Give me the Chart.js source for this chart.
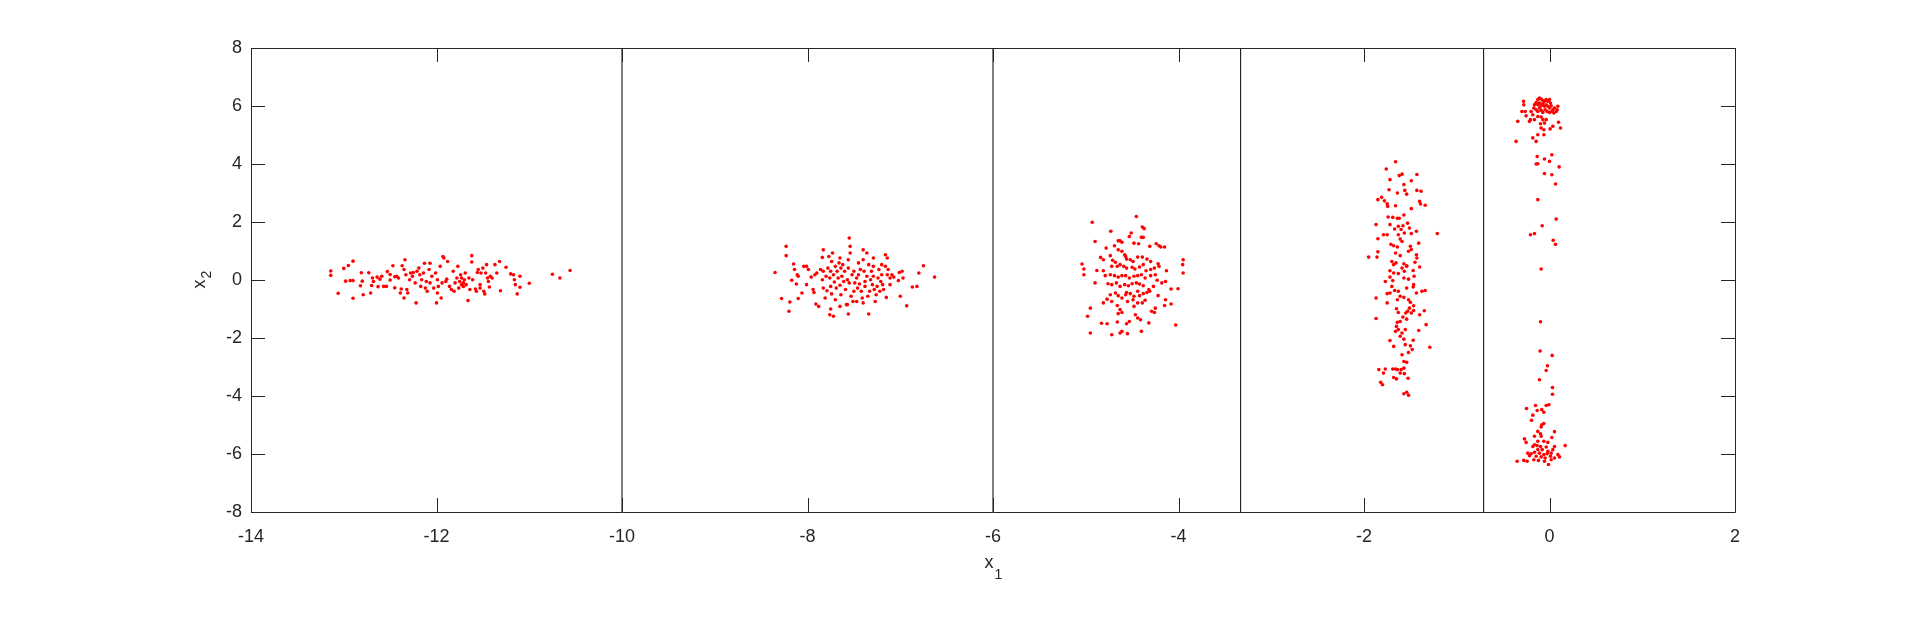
<!DOCTYPE html>
<html>
<head>
<meta charset="utf-8">
<script src="https://cdn.jsdelivr.net/npm/chart.js@4.4.0/dist/chart.umd.min.js"></script>
<style>
  html, body { margin: 0; padding: 0; background: #fff; }
  #wrap { width: 1920px; height: 635px; }
</style>
</head>
<body>
<div id="wrap"><canvas id="chart" width="1920" height="635"></canvas></div>
<script>
// axis ranges / ticks
const xTicks = [-14, -12, -10, -8, -6, -4, -2, 0, 2];
const yTicks = [-8, -6, -4, -2, 0, 2, 4, 6, 8];
// vertical separator lines
const boundaries = [-10, -6, -3.33, -0.71];

// clusters, [x1, x2] pairs
const cluster1 = [
  [-13.14,0.31],[-13.14,0.16],[-13.00,0.40],[-12.95,0.50],[-12.90,0.65],[-13.06,-0.46],[-12.98,-0.04],
  [-12.93,-0.02],[-12.90,-0.02],[-12.90,-0.63],[-12.81,0.25],[-12.80,-0.04],[-12.82,-0.20],[-12.79,-0.51],
  [-12.73,0.25],[-12.71,-0.45],[-12.70,-0.19],[-12.69,0.07],[-12.68,-0.05],[-12.64,0.10],[-12.63,-0.23],
  [-12.61,0.03],[-12.59,0.13],[-12.57,-0.22],[-12.54,-0.22],[-12.53,0.29],[-12.50,0.00],[-12.50,0.19],
  [-12.47,0.49],[-12.45,0.11],[-12.45,-0.27],[-12.43,0.13],[-12.41,0.07],[-12.39,-0.45],[-12.38,-0.31],
  [-12.37,0.49],[-12.35,-0.62],[-12.35,0.36],[-12.34,0.70],[-12.33,0.18],[-12.32,-0.33],[-12.31,-0.45],
  [-12.29,0.01],[-12.28,0.24],[-12.26,0.13],[-12.25,0.26],[-12.23,-0.10],[-12.22,-0.79],[-12.21,0.30],
  [-12.19,0.41],[-12.18,0.18],[-12.17,-0.22],[-12.16,0.01],[-12.14,0.24],[-12.13,0.58],[-12.12,-0.28],
  [-12.11,-0.05],[-12.10,-0.39],[-12.08,0.36],[-12.07,0.58],[-12.07,-0.10],[-12.05,0.13],[-12.03,-0.28],
  [-12.01,0.24],[-12.00,-0.79],[-11.99,0.01],[-11.99,-0.45],[-11.98,-0.22],[-11.96,0.47],[-11.95,-0.62],
  [-11.94,-0.10],[-11.93,0.81],[-11.92,0.76],[-11.90,-0.05],[-11.89,0.03],[-11.88,0.64],[-11.86,-0.22],
  [-11.84,-0.33],[-11.82,0.30],[-11.81,-0.39],[-11.80,-0.10],[-11.78,0.07],[-11.77,0.47],[-11.76,-0.28],
  [-11.75,-0.05],[-11.74,0.18],[-11.73,-0.16],[-11.73,0.07],[-11.71,-0.10],[-11.71,-0.22],[-11.70,0.01],
  [-11.69,0.24],[-11.68,-0.16],[-11.66,-0.71],[-11.65,0.07],[-11.64,-0.33],[-11.62,0.84],[-11.62,0.62],
  [-11.61,0.01],[-11.58,-0.31],[-11.57,-0.39],[-11.56,0.26],[-11.55,0.36],[-11.53,-0.28],[-11.53,-0.16],
  [-11.52,0.24],[-11.50,0.41],[-11.49,-0.39],[-11.48,-0.48],[-11.47,0.24],[-11.46,0.53],[-11.45,0.07],
  [-11.44,-0.05],[-11.43,-0.24],[-11.42,0.13],[-11.40,0.07],[-11.37,0.53],[-11.35,0.24],[-11.32,0.64],
  [-11.31,-0.37],[-11.25,0.44],[-11.20,0.21],[-11.17,0.18],[-11.16,0.01],[-11.15,-0.16],[-11.13,-0.48],
  [-11.10,0.13],[-11.10,-0.25],[-11.00,-0.11],[-10.75,0.20],[-10.67,0.07],[-10.56,0.33]
];
const cluster2 = [
  [-8.35,0.26],[-8.28,-0.64],[-8.23,1.16],[-8.23,0.84],[-8.20,-1.08],[-8.19,-0.76],[-8.17,-0.01],
  [-8.15,0.55],[-8.14,0.36],[-8.12,-0.14],[-8.11,0.18],[-8.10,0.13],[-8.10,-0.64],[-8.06,-0.45],
  [-8.04,0.47],[-8.01,0.47],[-8.01,-0.16],[-7.99,0.36],[-7.96,0.10],[-7.94,-0.33],[-7.93,-0.43],
  [-7.92,0.18],[-7.91,-0.83],[-7.90,0.24],[-7.88,-0.91],[-7.86,0.36],[-7.84,0.78],[-7.84,0.01],
  [-7.83,-0.28],[-7.83,1.04],[-7.83,0.30],[-7.81,-0.62],[-7.80,0.13],[-7.79,-0.37],[-7.78,0.41],
  [-7.77,0.81],[-7.76,0.07],[-7.76,-1.20],[-7.75,-0.22],[-7.75,-1.00],[-7.75,0.30],[-7.74,0.64],
  [-7.74,-0.48],[-7.73,0.93],[-7.72,0.18],[-7.72,-1.25],[-7.71,-0.07],[-7.70,0.47],[-7.70,-0.68],
  [-7.69,-0.28],[-7.68,0.30],[-7.67,0.07],[-7.66,0.59],[-7.65,0.76],[-7.65,-0.18],[-7.65,-0.91],
  [-7.64,0.41],[-7.64,-0.51],[-7.63,0.13],[-7.62,0.53],[-7.61,-0.05],[-7.60,0.30],[-7.59,-0.33],
  [-7.58,-0.85],[-7.57,0.01],[-7.57,-0.85],[-7.56,-1.17],[-7.56,0.70],[-7.56,0.41],[-7.55,1.45],
  [-7.55,-0.10],[-7.54,1.16],[-7.54,0.93],[-7.53,-0.56],[-7.52,0.18],[-7.51,-0.74],[-7.50,-0.39],
  [-7.50,0.30],[-7.49,-0.10],[-7.47,-0.74],[-7.47,0.07],[-7.46,-0.28],[-7.45,0.59],[-7.45,0.18],
  [-7.44,-0.14],[-7.43,0.36],[-7.42,-0.39],[-7.41,-0.62],[-7.40,0.70],[-7.40,-0.79],[-7.40,1.04],
  [-7.39,0.30],[-7.38,-0.05],[-7.38,-0.22],[-7.36,0.93],[-7.36,0.13],[-7.35,-0.56],[-7.34,-1.17],
  [-7.34,0.53],[-7.33,-0.39],[-7.32,0.01],[-7.31,0.30],[-7.30,-0.16],[-7.29,0.13],[-7.29,0.76],
  [-7.29,0.47],[-7.28,-0.33],[-7.27,-0.74],[-7.26,-0.51],[-7.25,-0.22],[-7.24,0.07],[-7.23,0.36],
  [-7.22,-0.39],[-7.21,-0.05],[-7.20,0.18],[-7.20,0.53],[-7.19,-0.16],[-7.18,-0.33],[-7.16,0.87],
  [-7.16,0.47],[-7.15,-0.60],[-7.14,0.76],[-7.14,0.18],[-7.13,0.36],[-7.11,-0.16],[-7.11,0.07],
  [-7.09,0.18],[-7.07,0.10],[-7.02,-0.02],[-7.01,0.26],[-7.00,-0.56],[-6.98,0.30],[-6.97,0.07],
  [-6.93,-0.89],[-6.87,-0.24],[-6.82,-0.22],[-6.80,0.24],[-6.75,0.49],[-6.63,0.10]
];
const cluster3 = [
  [-4.455,2.19],[-4.93,1.99],[-4.73,1.68],[-4.51,1.62],[-4.53,1.50],[-4.39,1.83],[-4.37,1.77],
  [-4.90,1.33],[-4.65,1.35],[-4.63,1.35],[-4.61,1.30],[-4.48,1.27],[-4.43,1.25],[-4.40,1.47],
  [-4.38,1.47],[-4.31,1.16],[-4.24,1.25],[-4.21,1.18],[-4.19,1.14],[-4.15,1.14],[-4.78,1.10],
  [-4.69,1.18],[-4.65,1.04],[-4.61,0.99],[-4.58,0.87],[-4.57,0.81],[-4.735,0.84],[-4.84,0.78],
  [-4.81,0.70],[-4.71,0.68],[-4.68,0.61],[-4.56,0.72],[-4.52,0.70],[-4.49,0.64],[-4.44,0.79],
  [-4.39,0.79],[-4.34,0.72],[-4.30,0.64],[-4.22,0.56],[-4.21,0.47],[-3.95,0.70],[-3.955,0.53],
  [-5.04,0.55],[-5.02,0.38],[-5.02,0.18],[-4.88,0.33],[-4.81,0.32],[-4.72,0.47],[-4.66,0.47],
  [-4.63,0.53],[-4.59,0.47],[-4.56,0.41],[-4.50,0.44],[-4.47,0.38],[-4.42,0.45],[-4.38,0.53],
  [-4.35,0.32],[-4.30,0.36],[-4.26,0.41],[-4.25,0.18],[-4.13,0.32],[-3.95,0.24],[-4.79,0.15],
  [-4.735,0.18],[-4.69,0.15],[-4.65,0.10],[-4.61,0.15],[-4.57,0.15],[-4.53,0.07],[-4.48,0.13],
  [-4.44,0.15],[-4.40,0.18],[-4.36,0.07],[-4.30,0.15],[-4.23,-0.01],[-4.90,-0.10],[-4.76,-0.13],
  [-4.72,-0.16],[-4.67,-0.10],[-4.63,-0.22],[-4.58,-0.16],[-4.54,-0.20],[-4.50,-0.13],[-4.455,-0.10],
  [-4.42,-0.14],[-4.38,-0.20],[-4.32,-0.33],[-4.27,-0.22],[-4.18,-0.10],[-4.14,-0.05],[-4.08,-0.31],
  [-4.005,-0.30],[-4.735,-0.51],[-4.68,-0.45],[-4.65,-0.54],[-4.61,-0.62],[-4.57,-0.51],[-4.56,-0.43],
  [-4.52,-0.47],[-4.48,-0.56],[-4.44,-0.39],[-4.42,-0.54],[-4.38,-0.47],[-4.34,-0.43],[-4.31,-0.39],
  [-4.22,-0.54],[-4.81,-0.79],[-4.77,-0.66],[-4.72,-0.74],[-4.66,-0.88],[-4.63,-1.02],[-4.61,-1.12],
  [-4.55,-0.74],[-4.49,-0.68],[-4.48,-0.91],[-4.44,-0.79],[-4.39,-0.79],[-4.36,-0.70],[-4.29,-1.08],
  [-4.25,-0.97],[-4.14,-0.68],[-4.15,-0.88],[-4.08,-0.83],[-4.95,-0.97],[-4.98,-1.25],[-4.65,-1.16],
  [-4.465,-1.20],[-4.44,-1.31],[-4.41,-1.37],[-4.26,-1.12],[-4.83,-1.49],[-4.77,-1.51],[-4.66,-1.45],
  [-4.56,-1.51],[-4.53,-1.43],[-4.32,-1.48],[-4.03,-1.55],[-4.95,-1.83],[-4.72,-1.89],[-4.63,-1.83],
  [-4.61,-1.77],[-4.55,-1.85],[-4.40,-1.77]
];
const cluster4 = [
  [-1.66,4.08],[-1.76,3.83],[-1.72,3.46],[-1.62,3.60],[-1.59,3.65],[-1.43,3.64],[-1.49,3.42],
  [-1.57,3.29],[-1.73,3.11],[-1.64,3.00],[-1.56,3.09],[-1.54,2.96],[-1.43,3.09],[-1.385,3.06],
  [-1.85,2.77],[-1.81,2.85],[-1.78,2.73],[-1.75,2.63],[-1.745,2.54],[-1.66,2.56],[-1.49,2.46],
  [-1.40,2.71],[-1.39,2.62],[-1.34,2.58],[-1.74,2.17],[-1.69,2.16],[-1.64,2.13],[-1.62,2.13],
  [-1.57,2.24],[-1.87,1.91],[-1.72,1.91],[-1.67,1.76],[-1.63,1.85],[-1.60,1.74],[-1.58,1.87],
  [-1.53,1.96],[-1.51,1.79],[-1.435,1.68],[-1.21,1.60],[-1.79,1.56],[-1.75,1.56],[-1.63,1.56],
  [-1.61,1.41],[-1.565,1.62],[-1.49,1.60],[-1.85,1.42],[-1.71,1.23],[-1.68,1.18],[-1.64,1.14],
  [-1.59,1.33],[-1.50,1.16],[-1.49,1.05],[-1.41,1.27],[-1.95,0.79],[-1.86,0.79],[-1.85,0.97],
  [-1.66,0.93],[-1.61,0.84],[-1.52,0.99],[-1.435,0.87],[-1.43,0.76],[-1.70,0.64],[-1.68,0.53],
  [-1.655,0.59],[-1.57,0.56],[-1.54,0.49],[-1.45,0.61],[-1.40,0.45],[-1.72,0.32],[-1.68,0.24],
  [-1.63,0.22],[-1.59,0.41],[-1.565,0.30],[-1.54,0.47],[-1.47,0.33],[-1.46,0.13],[-1.72,0.10],
  [-1.69,-0.02],[-1.77,-0.05],[-1.57,0.07],[-1.52,0.03],[-1.465,-0.16],[-1.47,-0.24],[-1.70,-0.22],
  [-1.67,-0.36],[-1.63,-0.39],[-1.54,-0.28],[-1.435,-0.45],[-1.375,-0.39],[-1.34,-0.36],[-1.87,-0.62],
  [-1.75,-0.47],[-1.72,-0.45],[-1.64,-0.68],[-1.61,-0.56],[-1.57,-0.60],[-1.52,-0.68],[-1.75,-0.79],
  [-1.50,-0.77],[-1.465,-0.89],[-1.51,-0.97],[-1.65,-0.99],[-1.63,-1.12],[-1.55,-1.14],[-1.53,-1.08],
  [-1.49,-1.14],[-1.465,-1.05],[-1.40,-1.20],[-1.35,-1.06],[-1.87,-1.33],[-1.64,-1.46],[-1.61,-1.43],
  [-1.58,-1.28],[-1.54,-1.35],[-1.33,-1.54],[-1.65,-1.60],[-1.63,-1.71],[-1.66,-1.77],[-1.59,-1.83],
  [-1.61,-1.94],[-1.555,-1.71],[-1.41,-1.74],[-1.72,-2.09],[-1.68,-2.29],[-1.57,-2.04],[-1.555,-2.23],
  [-1.50,-2.27],[-1.47,-2.08],[-1.48,-2.40],[-1.52,-2.50],[-1.29,-2.32],[-1.59,-2.58],[-1.57,-2.81],
  [-1.54,-2.84],[-1.57,-3.04],[-1.60,-3.09],[-1.69,-3.07],[-1.66,-3.07],[-1.64,-3.09],[-1.77,-3.07],
  [-1.84,-3.09],[-1.79,-3.21],[-1.565,-3.23],[-1.61,-3.21],[-1.68,-3.36],[-1.65,-3.41],[-1.525,-3.39],
  [-1.82,-3.53],[-1.80,-3.61],[-1.57,-3.92],[-1.54,-3.87],[-1.52,-3.97]
];
const cluster5 = [
  [-0.108,6.27],[-0.126,6.22],[-0.09,6.24],[-0.072,6.19],[-0.054,6.16],[-0.036,6.22],[-0.018,6.16],
  [0.0,6.22],[0.011,6.10],[-0.144,6.12],[-0.162,6.04],[-0.126,6.04],[-0.108,6.10],[-0.09,6.01],
  [-0.072,6.08],[-0.054,5.99],[-0.036,6.04],[-0.018,5.99],[0.0,5.93],[0.018,6.01],[0.036,5.87],
  [0.054,5.93],[0.072,5.81],[0.09,5.99],[0.083,5.87],[-0.169,5.93],[-0.144,5.87],[-0.126,5.81],
  [-0.108,5.93],[-0.09,5.85],[-0.072,5.78],[-0.047,5.87],[-0.025,5.81],[0.0,5.78],[0.025,5.81],
  [0.047,5.76],[-0.28,6.16],[-0.277,6.04],[-0.298,5.81],[-0.262,5.81],[-0.252,5.66],[-0.198,5.81],
  [-0.18,5.70],[-0.205,5.53],[-0.216,5.47],[-0.162,5.53],[-0.126,5.64],[-0.09,5.62],[-0.072,5.53],
  [-0.036,5.53],[-0.342,5.47],[-0.097,5.39],[-0.054,5.41],[0.097,5.44],[0.036,5.30],[0.119,5.24],
  [-0.09,5.24],[-0.061,5.18],[0.007,5.21],[-0.126,5.01],[-0.061,5.01],[-0.18,4.90],[-0.144,4.78],
  [-0.36,4.78],[-0.133,4.26],[-0.054,4.17],[0.0,4.09],[0.025,4.32],[-0.144,4.00],[-0.126,4.01],
  [0.104,3.90],[-0.054,3.67],[0.025,3.63],[0.065,3.31],[-0.126,2.77],[0.072,2.10],[-0.079,1.87],
  [-0.205,1.56],[-0.162,1.60],[0.04,1.37],[0.065,1.23],[-0.09,0.38],
  [-0.097,-1.44],[-0.101,-2.45],[0.029,-2.60],[-0.022,-2.96],[-0.036,-3.12],[-0.108,-3.44],
  [0.032,-3.71],[0.032,-3.94],[-0.248,-4.43],[-0.151,-4.33],[-0.133,-4.50],[-0.083,-4.47],
  [-0.061,-4.56],[-0.036,-4.33],[-0.007,-4.30],[-0.18,-4.66],[-0.194,-4.84],[-0.083,-4.99],
  [-0.061,-4.95],[-0.09,-5.07],[0.054,-5.23],[-0.126,-5.22],[-0.097,-5.30],[-0.162,-5.39],
  [-0.09,-5.39],[0.025,-5.43],[-0.27,-5.48],[-0.252,-5.60],[-0.126,-5.56],[-0.061,-5.56],
  [-0.018,-5.60],[-0.162,-5.68],[-0.133,-5.71],[-0.18,-5.74],[-0.097,-5.74],[-0.036,-5.76],
  [0.054,-5.74],[0.169,-5.71],[-0.126,-5.85],[-0.079,-5.85],[-0.018,-5.91],[0.036,-5.85],
  [-0.234,-5.97],[-0.198,-5.99],[-0.162,-5.94],[-0.108,-5.97],[-0.061,-6.02],[-0.025,-5.99],
  [0.018,-5.97],[0.09,-6.02],[0.108,-6.10],[-0.216,-6.06],[-0.144,-6.08],[-0.09,-6.10],
  [-0.047,-6.14],[0.011,-6.08],[0.054,-6.14],[-0.349,-6.25],[-0.277,-6.22],[-0.241,-6.25],
  [-0.169,-6.20],[-0.119,-6.22],[-0.054,-6.25],[-0.011,-6.36],[0.018,-6.20]
];

const clusters = [cluster1, cluster2, cluster3, cluster4, cluster5];
const FONT = '"Liberation Sans", Arial, Helvetica, sans-serif';
const TEXT = '#262626';
const TICK = 14;

// точки
const pointSets = clusters.map(c => ({
  type: 'scatter',
  data: c.map(p => ({ x: p[0], y: p[1] })),
  pointRadius: 1.8,
  pointBorderWidth: 0,
  pointBackgroundColor: '#ff0000',
  showLine: false
}));

// вертикальные линии
const lineSets = boundaries.map(b => ({
  type: 'line',
  data: [{ x: b, y: yTicks[0] }, { x: b, y: yTicks[yTicks.length - 1] }],
  borderColor: '#000',
  borderWidth: 1,
  pointRadius: 0,
  fill: false
}));

// box + inward ticks + axis titles
const frame = {
  id: 'frame',
  afterDraw(chart) {
    const { ctx, chartArea: a, scales: { x, y } } = chart;
    ctx.save();
    ctx.strokeStyle = TEXT;
    ctx.lineWidth = 1;
    ctx.beginPath();
    ctx.rect(Math.round(a.left) + 0.5, Math.round(a.top) + 0.5,
             Math.round(a.right - a.left), Math.round(a.bottom - a.top));
    xTicks.forEach(v => {
      const px = Math.round(x.getPixelForValue(v)) + 0.5;
      ctx.moveTo(px, a.bottom); ctx.lineTo(px, a.bottom - TICK);
      ctx.moveTo(px, a.top); ctx.lineTo(px, a.top + TICK);
    });
    yTicks.forEach(v => {
      const py = Math.round(y.getPixelForValue(v)) + 0.5;
      ctx.moveTo(a.left, py); ctx.lineTo(a.left + TICK, py);
      ctx.moveTo(a.right, py); ctx.lineTo(a.right - TICK, py);
    });
    ctx.stroke();

    // x_1
    ctx.fillStyle = TEXT;
    ctx.textBaseline = 'alphabetic';
    ctx.textAlign = 'left';
    ctx.font = '18px ' + FONT;
    const wx = ctx.measureText('x').width;
    ctx.font = '14px ' + FONT;
    const ws = ctx.measureText('1').width;
    const cx = (a.left + a.right) / 2;
    ctx.font = '18px ' + FONT;
    ctx.fillText('x', cx - (wx + ws) / 2, 568);
    ctx.font = '14px ' + FONT;
    ctx.fillText('1', cx - (wx + ws) / 2 + wx + 1, 579);

    // x_2
    const cy = (a.top + a.bottom) / 2;
    ctx.translate(205, cy);
    ctx.rotate(-Math.PI / 2);
    ctx.font = '18px ' + FONT;
    ctx.fillText('x', -(wx + ws) / 2, 0);
    ctx.font = '14px ' + FONT;
    ctx.fillText('2', -(wx + ws) / 2 + wx + 1, 6);
    ctx.restore();
  }
};

new Chart(document.getElementById('chart').getContext('2d'), {
  type: 'scatter',
  data: { datasets: [...lineSets, ...pointSets] },
  options: {
    responsive: false,
    devicePixelRatio: 1,
    animation: false,
    layout: { padding: { left: 0, right: 185, top: 48, bottom: 0 } },
    plugins: { legend: { display: false }, tooltip: { enabled: false } },
    scales: {
      x: {
        type: 'linear',
        min: xTicks[0],
        max: xTicks[xTicks.length - 1],
        afterFit: s => { s.height = 123; },
        afterBuildTicks: s => { s.ticks = xTicks.map(v => ({ value: v })); },
        grid: { display: false, drawTicks: false },
        border: { display: false },
        ticks: { padding: 14, autoSkip: false, maxRotation: 0, color: TEXT, font: { family: FONT, size: 18 } }
      },
      y: {
        type: 'linear',
        min: yTicks[0],
        max: yTicks[yTicks.length - 1],
        afterFit: s => { s.width = 251; },
        afterBuildTicks: s => { s.ticks = yTicks.map(v => ({ value: v })); },
        grid: { display: false, drawTicks: false },
        border: { display: false },
        ticks: { padding: 9, autoSkip: false, color: TEXT, font: { family: FONT, size: 18 } }
      }
    }
  },
  plugins: [frame]
});
</script>
</body>
</html>
